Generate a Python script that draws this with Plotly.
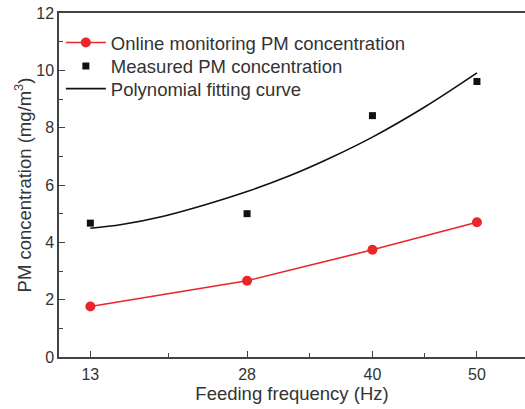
import plotly.graph_objects as go

# Data
freq = [13, 28, 40, 50]
online_pm = [1.76, 2.66, 3.74, 4.70]
measured_pm = [4.67, 5.00, 8.42, 9.61]
fit_x = [13, 16, 20, 24, 28, 32, 36, 40, 45, 50]
fit_y = [4.49, 4.62, 4.91, 5.31, 5.77, 6.31, 6.95, 7.67, 8.72, 9.91]
x_ticks = [13, 28, 40, 50]
x_minor = [20.5, 34, 45]
y_ticks = [0, 2, 4, 6, 8, 10, 12]

RED = "#e8262b"
AX = "#444444"
TXT = "#333333"
FONT = "Liberation Sans, Arial, sans-serif"

fig = go.Figure()
fig.add_trace(go.Scatter(
    x=freq, y=online_pm, mode="lines+markers",
    name="Online monitoring PM concentration",
    line=dict(color=RED, width=1.6),
    marker=dict(symbol="circle", size=10, color=RED),
    legend="legend",
))
fig.add_trace(go.Scatter(
    x=freq, y=measured_pm, mode="markers",
    name="Measured PM concentration",
    marker=dict(symbol="square", size=7, color="#111111"),
    legend="legend2",
))
fig.add_trace(go.Scatter(
    x=fit_x, y=fit_y, mode="lines", line_shape="spline",
    name="Polynomial fitting curve",
    line=dict(color="#111111", width=1.6),
    legend="legend3",
))

leg_common = dict(
    x=0.004, xanchor="left", yanchor="middle",
    bgcolor="rgba(0,0,0,0)", borderwidth=0,
    font=dict(size=18.5, color=TXT, family=FONT),
    itemwidth=40,
)

fig.update_layout(
    width=525, height=409,
    margin=dict(l=59, r=0, t=13, b=52, autoexpand=False),
    paper_bgcolor="white", plot_bgcolor="white",
    font=dict(family=FONT, color=TXT, size=16),
    showlegend=True,
    legend=dict(y=0.9127, **leg_common),
    legend2=dict(y=0.8446, **leg_common),
    legend3=dict(y=0.7789, **leg_common),
)

fig.update_xaxes(
    range=[10, 54.6], tickmode="array", tickvals=x_ticks,
    ticktext=[str(v) for v in x_ticks],
    showgrid=False, zeroline=False, automargin=False,
    showline=True, linecolor=AX, linewidth=1.5, mirror=True,
    ticks="inside", ticklen=6, tickwidth=1.3, tickcolor=AX,
    ticklabelstandoff=2, ticklabeloverflow="allow",
    tickfont=dict(size=16, color=TXT),
    minor=dict(tickmode="array", tickvals=x_minor, ticks="inside",
               ticklen=4, tickwidth=1.3, tickcolor=AX),
    title=dict(text="Feeding frequency (Hz)", font=dict(size=18.5, color=TXT), standoff=5),
)
fig.update_yaxes(
    range=[0, 12], tickmode="array", tickvals=y_ticks,
    showgrid=False, zeroline=False, automargin=False,
    showline=True, linecolor=AX, linewidth=1.5, mirror=False,
    ticks="inside", ticklen=6, tickwidth=1.3, tickcolor=AX,
    ticklabelstandoff=0, ticklabeloverflow="allow",
    tickfont=dict(size=16, color=TXT),
    minor=dict(dtick=1, ticks="inside", ticklen=4, tickwidth=1.3, tickcolor=AX),
    title=dict(text="PM concentration (mg/m<sup>3</sup>)", font=dict(size=18.5, color=TXT), standoff=0),
)

# remove the default 8px page margin so the figure fills the window exactly
fig.write_html(
    "out.html",
    config={"displayModeBar": False},
    post_script="document.body.style.margin='0';document.body.style.overflow='hidden';",
)
